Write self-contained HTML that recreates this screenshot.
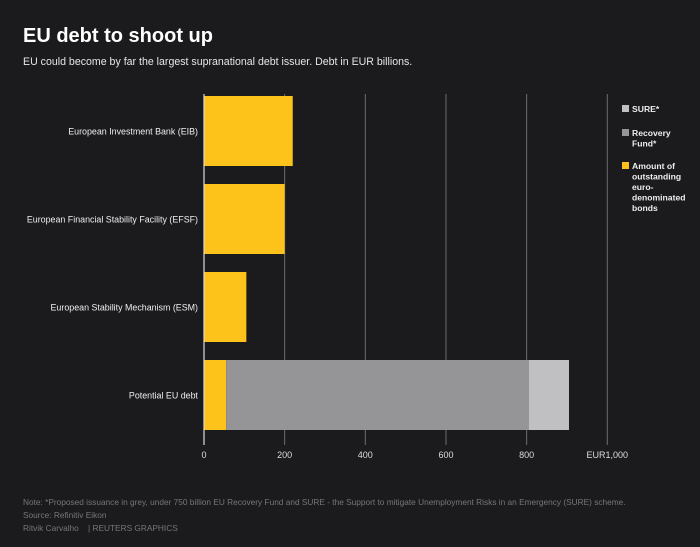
<!DOCTYPE html>
<html><head><meta charset="utf-8"><style>
body{margin:0;width:700px;height:547px;background:#1b1a1d;font-family:"Liberation Sans",sans-serif;color:#fff;overflow:hidden;position:relative}
.t{position:absolute}
</style></head><body>
<div class="t" style="left:23px;top:25px;font-size:20px;font-weight:bold">EU debt to shoot up</div>
<div class="t" style="left:23px;top:56px;font-size:10.6px;color:#e6e6e6">EU could become by far the largest supranational debt issuer. Debt in EUR billions.</div>
<svg id="c" width="700" height="547" style="position:absolute;left:0;top:0"></svg>
<div class="t" style="left:23px;top:496px;font-size:8.3px;color:#77767a;line-height:13px">Note: *Proposed issuance in grey, under 750 billion EU Recovery Fund and SURE - the Support to mitigate Unemployment Risks in an Emergency (SURE) scheme.<br>Source: Refinitiv Eikon<br>Ritvik Carvalho &nbsp;&nbsp; | REUTERS GRAPHICS</div>
<script>
const categories=["European Investment Bank (EIB)","European Financial Stability Facility (EFSF)","European Stability Mechanism (ESM)","Potential EU debt"];
const bonds=[220,200,105,55];
const recovery=[0,0,0,750];
const sure=[0,0,0,100];
const ticks=[0,200,400,600,800,1000];
const tickLabels=["0","200","400","600","800","EUR1,000"];
const NS="http://www.w3.org/2000/svg";
const svg=document.getElementById('c');
const x=v=>204+v*0.4033;
const y=i=>96+i*88;
const bh=70;
function mk(t,a){const e=document.createElementNS(NS,t);for(const k in a)e.setAttribute(k,a[k]);svg.appendChild(e);return e;}
ticks.forEach((t,i)=>{
 if(i>0){const l=mk('line',{x1:x(t),x2:x(t),y1:94,y2:445,stroke:'#6e6d70','stroke-width':1});
 
 }
 const tx=mk('text',{x:x(t),y:458,fill:'#ddd','font-size':9,'text-anchor':'middle','font-family':'Liberation Sans, sans-serif'});
 tx.textContent=tickLabels[i];
 
 
});
categories.forEach((c,i)=>{
 const b1=mk('rect',{x:x(0),y:y(i),width:x(bonds[i])-x(0),height:bh,fill:'#fec31b'});
 
 
 if(recovery[i]){const b2=mk('rect',{x:x(bonds[i]),y:y(i),width:x(bonds[i]+recovery[i])-x(bonds[i]),height:bh,fill:'#959598'});
 
 }
 if(sure[i]){const s0=bonds[i]+recovery[i];const b3=mk('rect',{x:x(s0),y:y(i),width:x(s0+sure[i])-x(s0),height:bh,fill:'#c0c0c2'});
 
 }
 const t=mk('text',{x:198,y:y(i)+bh/2+3.5,fill:'#eee','font-size':8.9,'text-anchor':'end','font-family':'Liberation Sans, sans-serif'});
 t.textContent=c;
 
 
});
const ax=mk('line',{x1:x(0),x2:x(0),y1:94,y2:445,stroke:'#ddd','stroke-width':1.2});


const leg=[["#c0c0c2",["SURE*"],107],["#959598",["Recovery","Fund*"],131],["#fec31b",["Amount of","outstanding","euro-","denominated","bonds"],164]];
leg.forEach(l=>{
 const r=mk('rect',{x:622,y:l[2]-2,width:7,height:7,fill:l[0]});
 
 
 l[1].forEach((s,j)=>{const t=mk('text',{x:632,y:l[2]+5+j*10.5,fill:'#eee','font-size':8.6,'font-weight':'bold','font-family':'Liberation Sans, sans-serif'});t.textContent=s;
 
 });
});
</script>
</body></html>
